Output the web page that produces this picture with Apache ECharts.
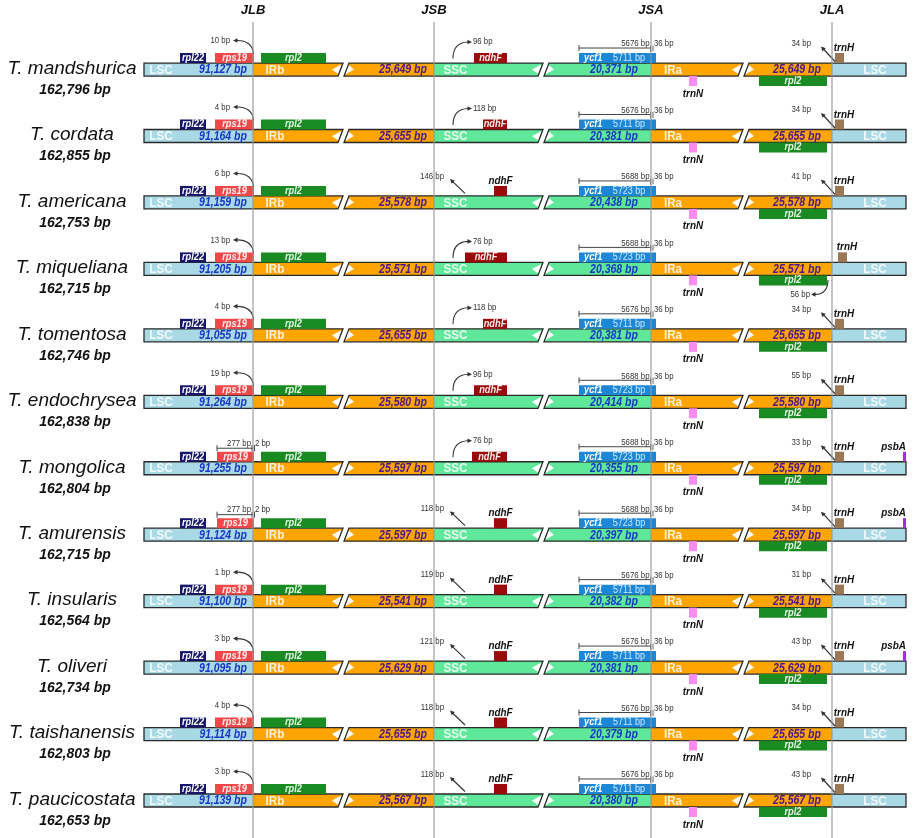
<!DOCTYPE html>
<html>
<head>
<meta charset="utf-8">
<script src="https://cdn.jsdelivr.net/npm/echarts@6/dist/echarts.min.js"></script>
<style>
  html, body { margin: 0; padding: 0; background: #fff; }
  #chart { width: 913px; height: 838px; }
</style>
</head>
<body>
<div id="chart"></div>
<script>
// ---- data ----
var species = ['T. mandshurica', 'T. cordata', 'T. americana', 'T. miqueliana', 'T. tomentosa', 'T. endochrysea',
               'T. mongolica', 'T. amurensis', 'T. insularis', 'T. oliveri', 'T. taishanensis', 'T. paucicostata'];
var genomeLen = [162796, 162855, 162753, 162715, 162746, 162838, 162804, 162715, 162564, 162734, 162803, 162653];
var lscLen = [91127, 91164, 91159, 91205, 91055, 91264, 91255, 91124, 91100, 91095, 91114, 91139];
var irLen  = [25649, 25655, 25578, 25571, 25655, 25580, 25597, 25597, 25541, 25629, 25655, 25567];
var sscLen = [20371, 20381, 20438, 20368, 20381, 20414, 20355, 20397, 20382, 20381, 20379, 20380];
// rps19: bp reaching into IRb, and bp left in LSC (only shown for two species)
var rps19InIR  = [10, 4, 6, 13, 4, 19, 2, 2, 1, 3, 4, 3];
var rps19InLSC = [null, null, null, null, null, null, 277, 277, null, null, null, null];
// ndhF: distance label, whether it overlaps the SSC start, left end on the diagram axis
var ndhFbp    = [96, 118, 146, 76, 118, 96, 76, 118, 119, 121, 118, 118];
var ndhFInSSC = [true, true, false, true, true, true, true, false, false, false, false, false];
var ndhFStart = [474, 483, 494, 465, 483, 474, 472, 494, 494, 494, 494, 494];
// ycf1
var ycf1Len   = [5711, 5711, 5723, 5723, 5711, 5723, 5723, 5723, 5711, 5711, 5711, 5711];
var ycf1InSSC = [5676, 5676, 5688, 5688, 5676, 5688, 5688, 5688, 5676, 5676, 5676, 5676];
var ycf1InIR  = [36, 36, 36, 36, 36, 36, 36, 36, 36, 36, 36, 36];
// trnH distance from JLA (null = not labelled), rpl2 gap at JLA (miqueliana)
var trnHbp  = [34, 34, 41, null, 34, 55, 33, 34, 31, 43, 34, 43];
var rpl2Gap = [null, null, null, 56, null, null, null, null, null, null, null, null];
var hasPsbA = [false, false, false, false, false, false, true, true, false, true, false, false];
var junctions = ['JLB', 'JSB', 'JSA', 'JLA'];

// ---- diagram layout (x in diagram units) ----
var junctionX = [253, 434, 651, 832];
var barStart = 144, barEnd = 906;
var breaks = [338, 538, 738];

var C = {
  lsc: '#aad9e6', ir: '#ffa500', ssc: '#5fe89a',
  rpl22: '#16166b', rps19: '#f2474a', rpl2: '#1a8a22', ndhF: '#9b0a0a',
  ycf1: '#1b87d6', trnH: '#9a7755', trnN: '#f98cf0', psbA: '#9b30e0',
  blueTxt: '#1638c4', irTxt: '#4a1690', ann: '#333'
};
var FF = "'Liberation Sans', Arial, sans-serif";

function fmt(n) { return n.toLocaleString('en-US'); }

function txt(x, y, s, font, fill, align, sx) {
  return { type: 'text', x: x, y: y, z2: 20, scaleX: sx || 1,
    style: { text: s, font: font, fill: fill, align: align || 'center', verticalAlign: 'middle' } };
}
function box(x0, x1, y0, y1, fill) {
  return { type: 'rect', shape: { x: x0, y: y0, width: x1 - x0, height: y1 - y0 }, style: { fill: fill } };
}
function poly(pts, fill, stroke, lw) {
  return { type: 'polygon', shape: { points: pts },
    style: { fill: fill || null, stroke: stroke || null, lineWidth: lw || 1 } };
}
function seg(x1, y1, x2, y2, col, lw) {
  return { type: 'line', shape: { x1: x1, y1: y1, x2: x2, y2: y2 }, style: { stroke: col, lineWidth: lw || 1 } };
}
function curve(x1, y1, cx, cy, x2, y2) {
  return { type: 'bezierCurve', shape: { x1: x1, y1: y1, cpx1: cx, cpy1: cy, x2: x2, y2: y2 },
    style: { stroke: '#333', lineWidth: 1.1, fill: null } };
}
function head(tx, ty, fx, fy) {
  var dx = tx - fx, dy = ty - fy, L = Math.sqrt(dx * dx + dy * dy);
  var ux = dx / L, uy = dy / L, s = 4.5, w = 2.3;
  return poly([[tx, ty], [tx - ux * s - uy * w, ty - uy * s + ux * w], [tx - ux * s + uy * w, ty - uy * s - ux * w]], '#333');
}

function renderRow(params, api) {
  var r = params.dataIndex;
  var cy = api.coord([0, r])[1];
  function X(v) { return api.coord([v, r])[0]; }
  var top = cy - 6.5, bot = cy + 6.5;
  var k = [];
  var b1 = X(breaks[0]), b2 = X(breaks[1]), b3 = X(breaks[2]);
  var s = X(barStart), e = X(barEnd);
  var j1 = X(junctionX[0]), j2 = X(junctionX[1]), j3 = X(junctionX[2]), j4 = X(junctionX[3]);

  // region fills
  k.push(box(s, j1, top, bot, C.lsc));
  k.push(poly([[j1, top], [b1 + 5, top], [b1, bot], [j1, bot]], C.ir));
  k.push(poly([[b1 + 11, top], [j2, top], [j2, bot], [b1 + 6, bot]], C.ir));
  k.push(poly([[j2, top], [b2 + 5, top], [b2, bot], [j2, bot]], C.ssc));
  k.push(poly([[b2 + 11, top], [j3, top], [j3, bot], [b2 + 6, bot]], C.ssc));
  k.push(poly([[j3, top], [b3 + 5, top], [b3, bot], [j3, bot]], C.ir));
  k.push(poly([[b3 + 11, top], [j4, top], [j4, bot], [b3 + 6, bot]], C.ir));
  k.push(box(j4, e, top, bot, C.lsc));
  // break markers
  [b1, b2, b3].forEach(function (b) {
    k.push(poly([[b - 6, cy], [b + 3.5, top + 1.5], [b + 0.8, bot - 1.5]], '#fff'));
    k.push(poly([[b + 10, top + 1.5], [b + 16, cy], [b + 7.2, bot - 1.5]], '#fff'));
  });
  // outlines
  var oc = '#2a2a2a', ow = 1.3;
  k.push(poly([[s, top], [b1 + 5, top], [b1, bot], [s, bot]], null, oc, ow));
  k.push(poly([[b1 + 11, top], [b2 + 5, top], [b2, bot], [b1 + 6, bot]], null, oc, ow));
  k.push(poly([[b2 + 11, top], [b3 + 5, top], [b3, bot], [b2 + 6, bot]], null, oc, ow));
  k.push(poly([[b3 + 11, top], [e, top], [e, bot], [b3 + 6, bot]], null, oc, ow));

  // region labels
  var wf = 'bold 13px ' + FF, wc = 'rgba(255,255,255,0.85)', nf = 'italic bold 12.5px ' + FF;
  var ws = 0.9, ns = 0.84;
  k.push(txt(X(161), cy + 0.5, 'LSC', wf, wc, 'center', ws));
  k.push(txt(X(223), cy + 0.5, fmt(lscLen[r]) + ' bp', nf, C.blueTxt, 'center', ns));
  k.push(txt(X(275), cy + 0.5, 'IRb', wf, wc, 'center', ws));
  k.push(txt(X(403), cy + 0.5, fmt(irLen[r]) + ' bp', nf, C.irTxt, 'center', ns));
  k.push(txt(X(455.5), cy + 0.5, 'SSC', wf, wc, 'center', ws));
  k.push(txt(X(614), cy + 0.5, fmt(sscLen[r]) + ' bp', nf, C.blueTxt, 'center', ns));
  k.push(txt(X(673), cy + 0.5, 'IRa', wf, wc, 'center', ws));
  k.push(txt(X(797), cy + 0.5, fmt(irLen[r]) + ' bp', nf, C.irTxt, 'center', ns));
  k.push(txt(X(875), cy + 0.5, 'LSC', wf, wc, 'center', ws));

  // species name and genome size
  k.push(txt(X(72), cy - 1, species[r], 'italic 19px ' + FF, '#111'));
  k.push(txt(X(75), cy + 20.5, fmt(genomeLen[r]) + ' bp', 'italic bold 14px ' + FF, '#111'));

  var gt = cy - 16.5, gb = top, gf = 'italic bold 10.5px ' + FF, gs = 0.88;
  var af = '8.5px ' + FF, as = 0.92;
  var lf = 'italic bold 11px ' + FF, ls = 0.9;
  // genes above
  k.push(box(X(180), X(206), gt, gb, C.rpl22));
  k.push(txt(X(193), cy - 11.5, 'rpl22', gf, '#fff', 'center', gs));
  var rs = rps19InLSC[r] ? 217 : 215;
  k.push(box(X(rs), X(254), gt, gb, C.rps19));
  k.push(txt(X((rs + 254) / 2), cy - 11.5, 'rps19', gf, 'rgba(255,255,255,0.9)', 'center', gs));
  k.push(box(X(261), X(326), gt, gb, C.rpl2));
  k.push(txt(X(293.5), cy - 11.5, 'rpl2', gf, 'rgba(255,255,255,0.9)', 'center', gs));

  // rps19 annotation
  if (rps19InLSC[r]) {
    var ly = cy - 20;
    k.push(seg(X(rs), ly, j1, ly, '#444', 1));
    k.push(seg(X(rs), ly - 3, X(rs), ly + 3, '#444', 1));
    k.push(seg(j1 - 1, ly - 3, j1 - 1, ly + 3, '#444', 1));
    k.push(seg(j1 + 1.5, ly - 3, j1 + 1.5, ly + 3, '#444', 1));
    k.push(txt(j1 - 2, cy - 25, rps19InLSC[r] + ' bp', af, C.ann, 'right', as));
    k.push(txt(j1 + 2, cy - 25, rps19InIR[r] + ' bp', af, C.ann, 'left', as));
  } else {
    k.push(curve(j1 + 0.5, cy - 16, j1 - 1, cy - 29, X(237), cy - 29));
    k.push(head(X(233), cy - 29, X(238), cy - 29));
    k.push(txt(X(230), cy - 28.5, rps19InIR[r] + ' bp', af, C.ann, 'right', as));
  }

  // ndhF
  if (ndhFInSSC[r]) {
    k.push(box(X(ndhFStart[r]), X(507), gt, gb, C.ndhF));
    k.push(txt(X((ndhFStart[r] + 507) / 2), cy - 11.5, 'ndhF', gf, 'rgba(255,255,255,0.92)', 'center', gs));
    k.push(curve(X(453), cy - 11, X(453), cy - 27, X(468), cy - 27.5));
    k.push(head(X(472), cy - 27.5, X(467), cy - 27.5));
    k.push(txt(X(473), cy - 27.5, ndhFbp[r] + ' bp', af, C.ann, 'left', as));
  } else {
    k.push(box(X(ndhFStart[r]), X(507), gt, gb, C.ndhF));
    k.push(txt(X(500.5), cy - 21.5, 'ndhF', lf, '#111', 'center', ls));
    k.push(seg(X(465), cy - 9, X(452.5), cy - 21, '#333', 1.2));
    k.push(head(X(450), cy - 23.5, X(465), cy - 9));
    k.push(txt(X(444), cy - 26, ndhFbp[r] + ' bp', af, C.ann, 'right', as));
  }

  // ycf1
  k.push(box(X(579), X(656), gt, gb, C.ycf1));
  k.push(txt(X(584), cy - 11.5, 'ycf1', gf, '#fff', 'left', gs));
  k.push(txt(X(629), cy - 11.5, ycf1Len[r] + ' bp', '10.5px ' + FF, '#cfe9ff', 'center', 0.86));
  var yl = cy - 21.5;
  k.push(seg(X(579), yl, j3, yl, '#444', 1));
  k.push(seg(X(579), yl - 3, X(579), yl + 3, '#444', 1));
  k.push(seg(j3 - 0.5, yl - 2.5, j3 - 0.5, yl + 3.5, '#666', 1));
  k.push(seg(j3 + 2, yl - 2.5, j3 + 2, yl + 3.5, '#666', 1));
  k.push(txt(j3 - 1.5, cy - 25.5, ycf1InSSC[r] + ' bp', af, C.ann, 'right', as));
  k.push(txt(j3 + 3, cy - 25.5, ycf1InIR[r] + ' bp', af, C.ann, 'left', as));

  // trnH
  var ts = rpl2Gap[r] ? 838 : 835;
  k.push(box(X(ts), X(ts + 9), gt, gb, C.trnH));
  k.push(txt(X(ts + 9), cy - 21.5, 'trnH', lf, '#111', 'center', ls));
  if (trnHbp[r] != null) {
    k.push(seg(X(835), cy - 8, X(823.5), cy - 20.5, '#333', 1.2));
    k.push(head(X(821), cy - 23, X(835), cy - 8));
    k.push(txt(X(811), cy - 26, trnHbp[r] + ' bp', af, C.ann, 'right', as));
  }
  if (hasPsbA[r]) {
    k.push(box(X(903), e, gt, gb, C.psbA));
    k.push(txt(e, cy - 21.5, 'psbA', lf, '#111', 'right', ls));
  }

  // genes below
  var bt = bot, bb = cy + 16.5;
  k.push(box(X(689), X(697), bt, bb, C.trnN));
  k.push(txt(X(693), cy + 24, 'trnN', lf, '#111', 'center', ls));
  k.push(box(X(759), X(827), bt, bb, C.rpl2));
  k.push(txt(X(793), cy + 11.5, 'rpl2', gf, 'rgba(255,255,255,0.9)', 'center', gs));
  if (rpl2Gap[r] != null) {
    k.push(curve(X(828), cy + 11, X(828), cy + 25, X(815), cy + 25.5));
    k.push(head(X(811), cy + 25.5, X(816), cy + 25.5));
    k.push(txt(X(810), cy + 25.5, rpl2Gap[r] + ' bp', af, C.ann, 'right', as));
  }

  return { type: 'group', children: k };
}

function renderJunction(params, api) {
  var i = params.dataIndex;
  var x = api.coord([junctionX[i], 0])[0];
  var band = api.size([0, 1])[1];
  var y0 = api.coord([0, 0])[1];
  var yN = api.coord([0, species.length - 1])[1];
  return { type: 'group', children: [
    seg(x, y0 - 0.715 * band, x, yN + 0.6 * band, 'rgba(150,150,150,0.75)', 1.5),
    txt(x, y0 - 0.89 * band, junctions[i], 'italic bold 13px ' + FF, '#111')
  ] };
}

var chart = echarts.init(document.getElementById('chart'));
chart.setOption({
  animation: false,
  grid: { left: 0, right: 0, top: 36.3, bottom: 4.3 },
  xAxis: { type: 'value', min: 0, max: 913, show: false },
  yAxis: { type: 'category', data: species, inverse: true, show: false },
  series: [
    { type: 'custom', renderItem: renderRow, clip: false, z: 2,
      data: species.map(function (s, i) { return [0, i]; }) },
    { type: 'custom', renderItem: renderJunction, clip: false, z: 5, silent: true,
      data: junctions.map(function (j, i) { return [junctionX[i], 0]; }) }
  ]
});
</script>
</body>
</html>
